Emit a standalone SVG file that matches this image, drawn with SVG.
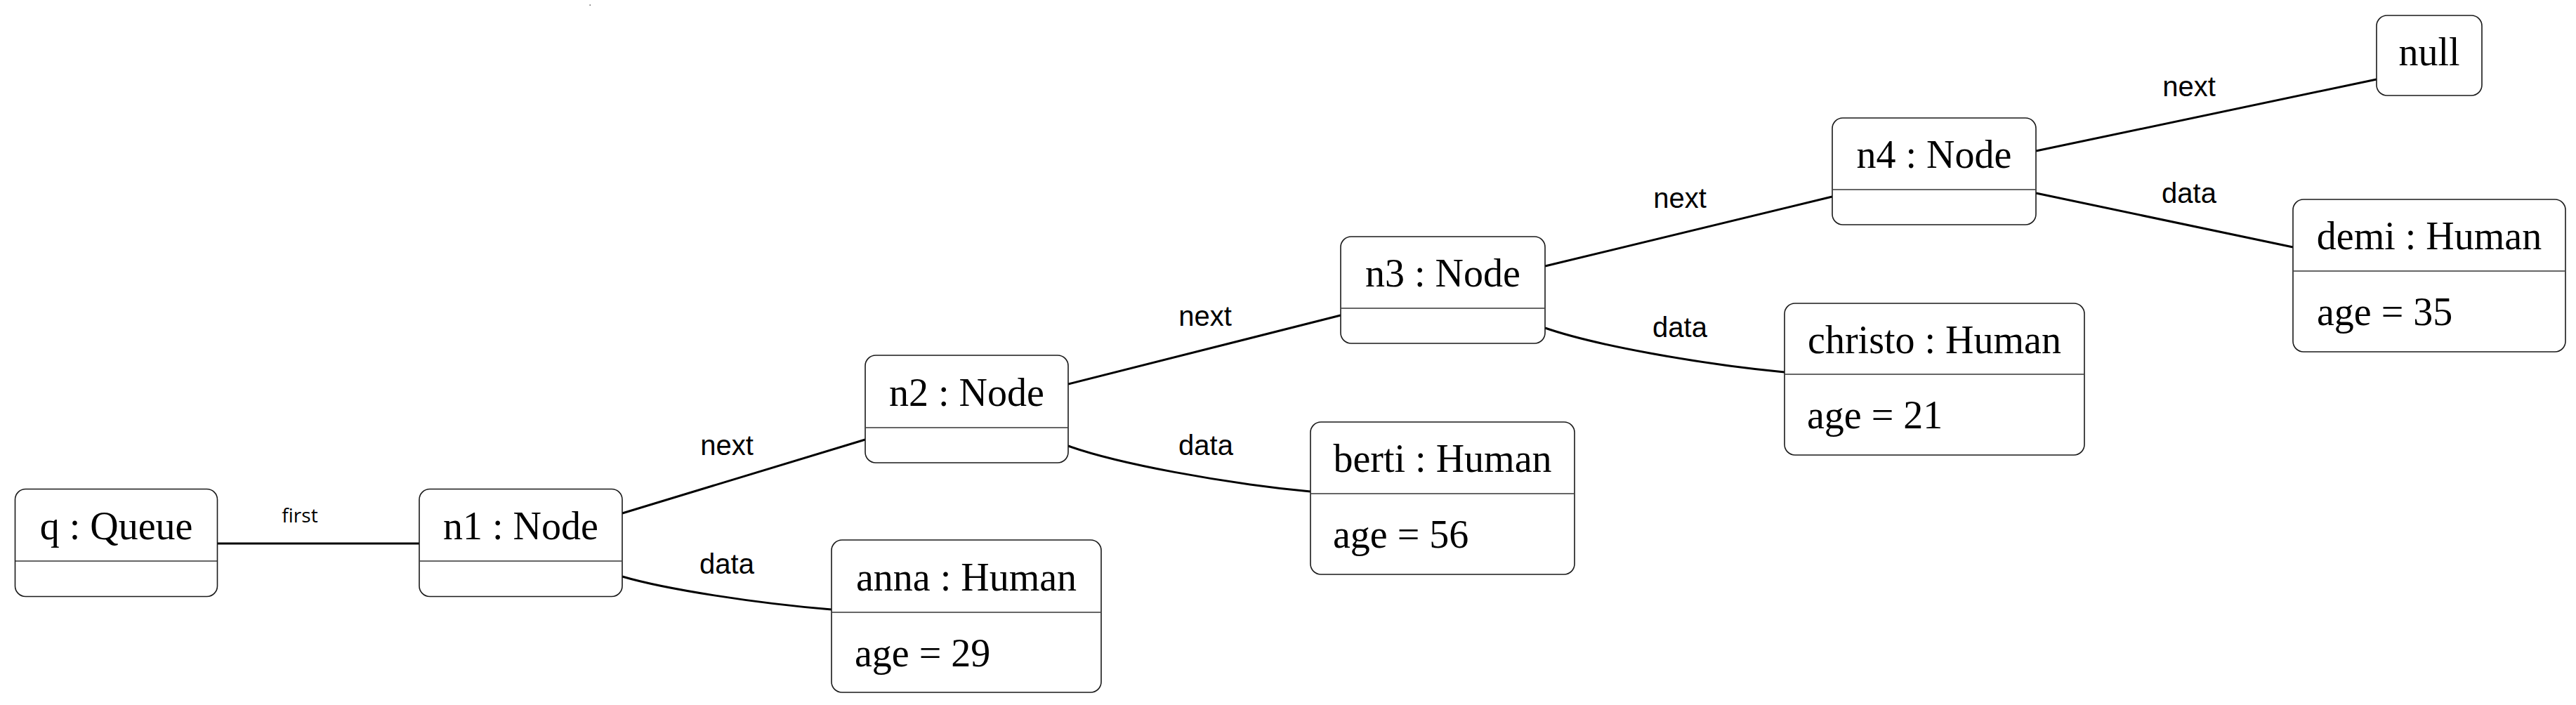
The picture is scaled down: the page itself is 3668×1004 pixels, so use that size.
<svg xmlns="http://www.w3.org/2000/svg" width="3668" height="1004" viewBox="0 0 3668 1004">
<style>
.box{fill:#ffffff;stroke:#1a1a1a;stroke-width:1.6}
.div{stroke:#333333;stroke-width:1.6}
.t{font-family:"Liberation Serif","Times New Roman",serif;font-size:56px;fill:#000}
.c{text-anchor:middle}
.lbl{font-family:"Liberation Sans",Arial,sans-serif;font-size:40px;fill:#000;text-anchor:middle}
.lbl2{font-family:"Open Sans","Noto Sans",sans-serif;font-size:28px;fill:#000;text-anchor:middle}
.edge{fill:none;stroke:#000;stroke-width:3}
</style>
<rect width="3668" height="1004" fill="#ffffff"/>
<rect x="839.5" y="6.5" width="1.5" height="1.5" fill="#555"/>
<g id="connectors">
<path class="edge" d="M309.5,774 L597,774"/>
<path class="edge" d="M886,731 L1232,626"/>
<path class="edge" d="M886,821 C947,839 1075,859 1184,868"/>
<path class="edge" d="M1521,547 L1909,449"/>
<path class="edge" d="M1521,635 C1591,660 1740,688 1866,700"/>
<path class="edge" d="M2200,379 L2609,280"/>
<path class="edge" d="M2200,467 C2269,491 2416,518 2541,530"/>
<path class="edge" d="M2899,215 L3384,113"/>
<path class="edge" d="M2899,275 L3265,352"/>
<text class="lbl2" x="427" y="744">first</text>
<text class="lbl" x="1035" y="648">next</text>
<text class="lbl" x="1035" y="817">data</text>
<text class="lbl" x="1716" y="464">next</text>
<text class="lbl" x="1717" y="648">data</text>
<text class="lbl" x="2392" y="296">next</text>
<text class="lbl" x="2392" y="480">data</text>
<text class="lbl" x="3117" y="137">next</text>
<text class="lbl" x="3117" y="289">data</text>
</g>
<g id="q">
<rect class="box" x="21.5" y="696.5" width="288" height="153" rx="15"/>
<line class="div" x1="22" y1="799" x2="309" y2="799"/>
<text class="t c" x="165.5" y="768">q : Queue</text>
</g>
<g id="n1">
<rect class="box" x="597" y="696.5" width="289" height="153" rx="15"/>
<line class="div" x1="598" y1="799" x2="885" y2="799"/>
<text class="t c" x="741.5" y="768">n1 : Node</text>
</g>
<g id="n2">
<rect class="box" x="1232" y="506" width="289" height="153" rx="15"/>
<line class="div" x1="1233" y1="609" x2="1520" y2="609"/>
<text class="t c" x="1376.5" y="578">n2 : Node</text>
</g>
<g id="n3">
<rect class="box" x="1909" y="337" width="291" height="152" rx="15"/>
<line class="div" x1="1910" y1="439" x2="2199" y2="439"/>
<text class="t c" x="2054.5" y="408">n3 : Node</text>
</g>
<g id="n4">
<rect class="box" x="2609" y="168" width="290" height="152" rx="15"/>
<line class="div" x1="2610" y1="270" x2="2898" y2="270"/>
<text class="t c" x="2754" y="239">n4 : Node</text>
</g>
<g id="null">
<rect class="box" x="3384" y="22" width="150" height="114" rx="15"/>
<text class="t c" x="3459" y="93">null</text>
</g>
<g id="anna">
<rect class="box" x="1184" y="769" width="384" height="217" rx="15"/>
<line class="div" x1="1185" y1="872" x2="1567" y2="872"/>
<text class="t c" x="1376" y="841">anna : Human</text>
<text class="t" x="1217" y="949">age = 29</text>
</g>
<g id="berti">
<rect class="box" x="1866" y="601" width="376" height="217" rx="15"/>
<line class="div" x1="1867" y1="703" x2="2241" y2="703"/>
<text class="t c" x="2054" y="672">berti : Human</text>
<text class="t" x="1898" y="780">age = 56</text>
</g>
<g id="christo">
<rect class="box" x="2541" y="432" width="427" height="216" rx="15"/>
<line class="div" x1="2542" y1="533" x2="2967" y2="533"/>
<text class="t c" x="2754.5" y="503">christo : Human</text>
<text class="t" x="2573" y="610">age = 21</text>
</g>
<g id="demi">
<rect class="box" x="3265" y="284" width="388" height="217" rx="15"/>
<line class="div" x1="3266" y1="386" x2="3652" y2="386"/>
<text class="t c" x="3459" y="355">demi : Human</text>
<text class="t" x="3299" y="463">age = 35</text>
</g>
</svg>
